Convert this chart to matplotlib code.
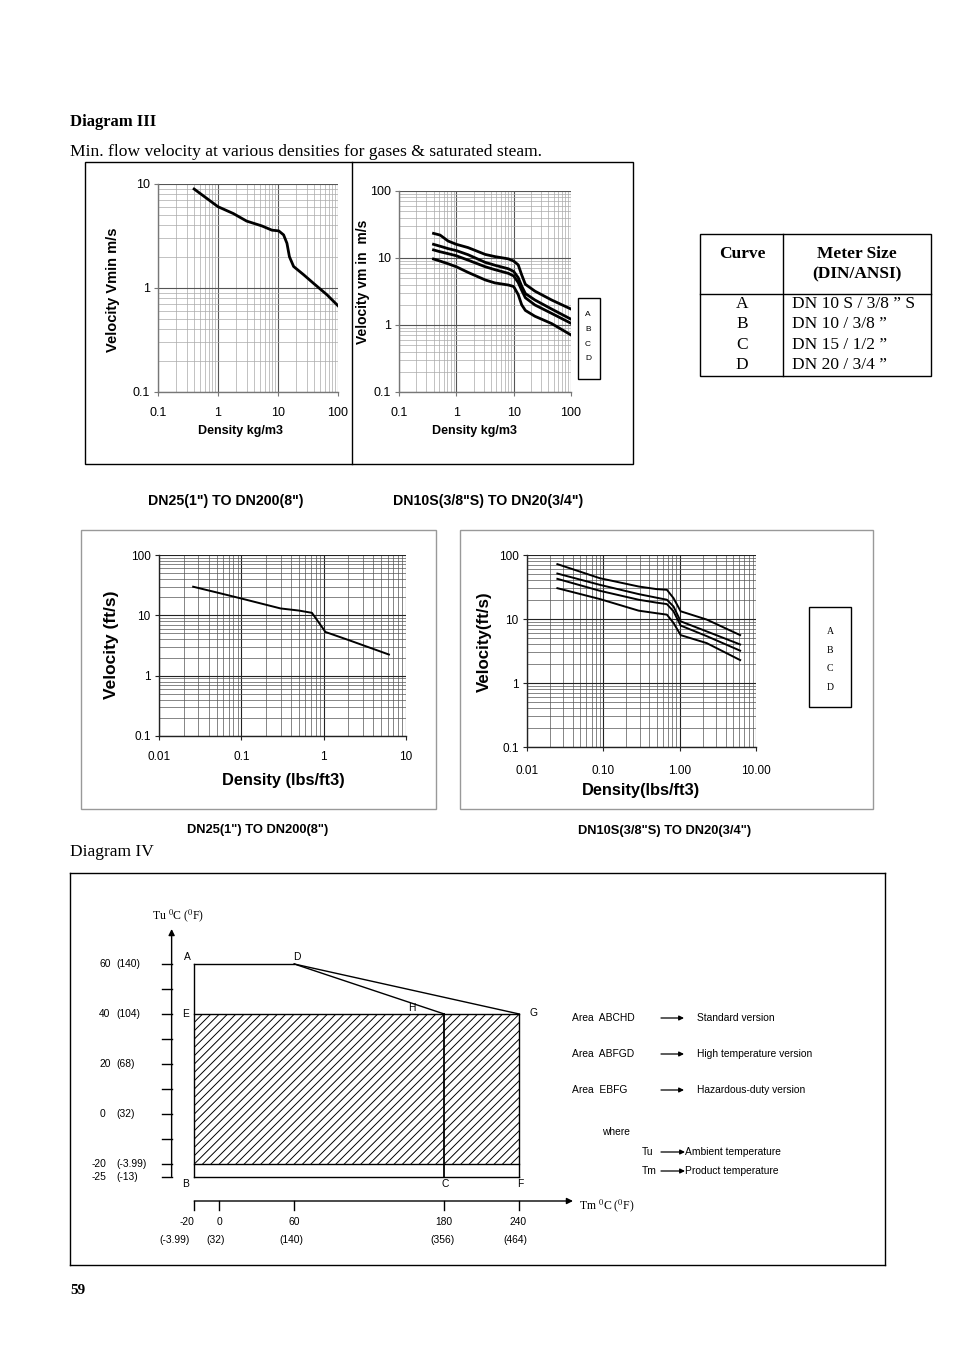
import matplotlib
matplotlib.use('Agg')
import matplotlib.pyplot as plt
from matplotlib.patches import Rectangle

W, H = 954, 1351
SANS = 'Liberation Sans'
SERIF = 'Liberation Serif'
plt.rcParams['font.family'] = [SANS, 'DejaVu Sans']
plt.rcParams['mathtext.fontset'] = 'stix'
plt.rcParams['hatch.linewidth'] = 0.7

# ---- Diagram III data ----
# top left: DN25..DN200, kg/m3 -> m/s
rho_big = [0.4, 1.0, 1.8, 3.0, 5.4, 7.9, 10.3, 12.4, 14.1, 15.5, 18.2, 26.8, 39, 65.6, 100]
v_big = [8.95, 6.05, 5.2, 4.4, 3.95, 3.6, 3.54, 3.24, 2.69, 2.0, 1.61, 1.34, 1.11, 0.86, 0.675]

# top right: DN10S..DN20, curves A-D
rho_small = [0.4, 0.52, 0.72, 1.0, 1.6, 3.2, 4.7, 8.1, 10, 12, 13.8, 16, 23.5, 46, 100]
v_small_A = [23.3, 22, 17.9, 16, 14.3, 11.3, 10.5, 9.7, 9.0, 7.9, 5.6, 4.05, 3.2, 2.36, 1.73]
v_small_B = [16.0, 15.0, 13.8, 12.9, 11.2, 8.6, 7.8, 6.9, 6.3, 5.1, 3.8, 2.95, 2.36, 1.73, 1.22]
v_small_C = [13.2, 12.4, 11.6, 10.8, 9.3, 7.4, 6.7, 5.9, 5.4, 4.3, 3.3, 2.55, 1.99, 1.49, 1.06]
v_small_D = [9.66, 9.0, 8.2, 7.4, 6.1, 4.7, 4.25, 3.95, 3.75, 2.85, 2.0, 1.65, 1.35, 1.05, 0.71]

# bottom left: DN25..DN200, lbs/ft3 -> ft/s
dens_big = [0.026, 0.05, 0.1, 0.3, 0.5, 0.72, 0.85, 1.05, 2.0, 6.2]
vel_big = [29.8, 24, 19, 13, 12, 11, 8, 5.3, 3.9, 2.24]

# bottom right: DN10S..DN20, curves A-D
dens_small = [0.025, 0.09, 0.29, 0.5, 0.68, 0.83, 1.03, 2.26, 6.2]
vel_small_A = [72, 43.4, 32.2, 29.3, 28.6, 21.2, 13.2, 9.8, 5.6]
vel_small_B = [51.3, 34.2, 24.5, 21.5, 20, 15.7, 9.2, 6.4, 4.0]
vel_small_C = [42.4, 27.6, 20, 18, 17.1, 13.2, 7.9, 5.4, 3.2]
vel_small_D = [30.3, 20.5, 13.5, 12.3, 11.7, 8.7, 5.6, 4.2, 2.28]

curve_names = ['A', 'B', 'C', 'D']
meter_sizes = ['DN 10 S / 3/8 \u201d S', 'DN 10 / 3/8 \u201d', 'DN 15 / 1/2 \u201d', 'DN 20 / 3/4 \u201d']

# ---- Diagram IV data ----
tu_ticks = [60, 50, 40, 30, 20, 10, 0, -10, -20, -25]
tu_labels_c = {60: '60', 40: '40', 20: '20', 0: '0', -20: '-20', -25: '-25'}
tu_labels_f = {60: '(140)', 40: '(104)', 20: '(68)', 0: '(32)', -20: '(-3.99)', -25: '(-13)'}
tm_ticks = [-20, 0, 60, 180, 240]
tm_labels_f = ['(-3.99)', '(32)', '(140)', '(356)', '(464)']
# corner points of the operating areas (Tm, Tu)
pts = {'A': (-20, 60), 'B': (-20, -25), 'C': (180, -25), 'D': (60, 60),
       'E': (-20, 40), 'F': (240, -25), 'G': (240, 40), 'H': (180, 40)}
areas = ['ABCHD', 'ABFGD', 'EBFG']
versions = ['Standard version', 'High temperature version', 'Hazardous-duty version']

fig = plt.figure(figsize=(W / 100, H / 100), dpi=100)

bg = fig.add_axes([0, 0, 1, 1])
bg.set_xlim(0, W)
bg.set_ylim(H, 0)
bg.axis('off')


def px_axes(x0, y0, x1, y1):
    ax = fig.add_axes([x0 / W, 1 - y1 / H, (x1 - x0) / W, (y1 - y0) / H])
    ax.set_facecolor('none')
    return ax


def log_panel(ax, xlim, ylim, xt, xtl, yt, ytl, major_c, minor_c, spine_c, fs, xpad):
    ax.set_xscale('log')
    ax.set_yscale('log')
    ax.set_xlim(*xlim)
    ax.set_ylim(*ylim)
    ax.set_xticks(xt)
    ax.set_xticklabels(xtl)
    ax.set_yticks(yt)
    ax.set_yticklabels(ytl)
    ax.grid(True, which='major', color=major_c, lw=0.8)
    ax.grid(True, which='minor', color=minor_c, lw=0.5)
    ax.minorticks_on()
    ax.tick_params(which='minor', length=0)
    ax.tick_params(which='major', length=3, color=spine_c, labelsize=fs, pad=3)
    ax.tick_params(axis='x', which='major', pad=xpad)
    for s in ['top', 'right']:
        ax.spines[s].set_visible(False)
    for s in ['left', 'bottom']:
        ax.spines[s].set_color(spine_c)
        ax.spines[s].set_linewidth(1.0)
    ax.set_axisbelow(True)


# ---- headings ----
bg.text(70, 122, 'Diagram III', family=SERIF, weight='bold', fontsize=12, va='center')
bg.text(70, 152, 'Min. flow velocity at various densities for gases & saturated steam.',
        family=SERIF, fontsize=12.6, va='center')

# ---- top frame ----
bg.add_patch(Rectangle((85, 162), 548, 302, fill=False, lw=1.0, ec='black'))
bg.plot([352, 352], [162, 464], color='black', lw=1.0)

ax1 = px_axes(158, 184, 338, 392)
log_panel(ax1, (0.1, 100), (0.1, 10), [0.1, 1, 10, 100], ['0.1', '1', '10', '100'],
          [0.1, 1, 10], ['0.1', '1', '10'], '#555555', '#aaaaaa', '#777777', 9, 8)
ax1.plot(rho_big, v_big, color='black', lw=2.0)
bg.text(113, 290, 'Velocity Vmin m/s', rotation=90, ha='center', va='center', weight='bold', fontsize=10.5)
bg.text(241, 431, 'Density kg/m3', ha='center', va='center', weight='bold', fontsize=9)

ax2 = px_axes(399, 191, 571, 392)
log_panel(ax2, (0.1, 100), (0.1, 100), [0.1, 1, 10, 100], ['0.1', '1', '10', '100'],
          [0.1, 1, 10, 100], ['0.1', '1', '10', '100'], '#555555', '#aaaaaa', '#777777', 9, 8)
for v in [v_small_A, v_small_B, v_small_C, v_small_D]:
    ax2.plot(rho_small, v, color='black', lw=2.0)
bg.text(363, 282, 'Velocity vm in  m/s', rotation=90, ha='center', va='center', weight='bold', fontsize=10)
bg.text(475, 431, 'Density kg/m3', ha='center', va='center', weight='bold', fontsize=9)
bg.add_patch(Rectangle((578, 298), 22, 81, fill=False, lw=1.0, ec='black'))
for i, n in enumerate(curve_names):
    bg.text(588, 315 + i * 14.5, n, ha='center', va='center', fontsize=6)

# ---- table ----
bg.add_patch(Rectangle((700, 234), 231, 142, fill=False, lw=1.0, ec='black'))
bg.plot([783, 783], [234, 376], color='black', lw=1.0)
bg.plot([700, 931], [294, 294], color='black', lw=1.0)
bg.text(742, 254, 'Curve', family=SERIF, weight='bold', fontsize=12.5, ha='center', va='center')
bg.text(857, 254, 'Meter Size', family=SERIF, weight='bold', fontsize=12.5, ha='center', va='center')
bg.text(857, 274, '(DIN/ANSI)', family=SERIF, weight='bold', fontsize=12.5, ha='center', va='center')
for i, (n, m) in enumerate(zip(curve_names, meter_sizes)):
    y = 304 + i * 20.3
    bg.text(742, y, n, family=SERIF, fontsize=12.5, ha='center', va='center')
    bg.text(792, y, m, family=SERIF, fontsize=12.5, ha='left', va='center')

# ---- captions ----
bg.text(226, 501, 'DN25(1") TO DN200(8")', ha='center', va='center', weight='bold', fontsize=10.2)
bg.text(488, 501, 'DN10S(3/8"S) TO DN20(3/4")', ha='center', va='center', weight='bold', fontsize=10.2)
bg.text(258, 830, 'DN25(1") TO DN200(8")', ha='center', va='center', weight='bold', fontsize=9.3)
bg.text(665, 831, 'DN10S(3/8"S) TO DN20(3/4")', ha='center', va='center', weight='bold', fontsize=9.3)

# ---- bottom scanned panels ----
bg.add_patch(Rectangle((81, 530), 355, 279, fill=False, lw=1.0, ec='#999999'))
bg.add_patch(Rectangle((460, 530), 413, 279, fill=False, lw=1.0, ec='#999999'))

ax3 = px_axes(159, 555, 406, 736)
log_panel(ax3, (0.01, 10), (0.1, 100), [0.01, 0.1, 1, 10], ['0.01', '0.1', '1', '10'],
          [0.1, 1, 10, 100], ['0.1', '1', '10', '100'], '#222222', '#555555', '#222222', 8.5, 8)
ax3.plot(dens_big, vel_big, color='black', lw=1.4)
bg.text(112, 645, 'Velocity (ft/s)', rotation=90, ha='center', va='center', weight='bold', fontsize=12.5)
bg.text(283, 780, 'Density (lbs/ft3)', ha='center', va='center', weight='bold', fontsize=11.8)

ax4 = px_axes(527, 555, 756, 747)
log_panel(ax4, (0.01, 10), (0.1, 100), [0.01, 0.1, 1, 10], ['0.01', '0.10', '1.00', '10.00'],
          [0.1, 1, 10, 100], ['0.1', '1', '10', '100'], '#222222', '#555555', '#222222', 8.5, 10)
for v in [vel_small_A, vel_small_B, vel_small_C, vel_small_D]:
    ax4.plot(dens_small, v, color='black', lw=1.4)
bg.text(484, 642, 'Velocity(ft/s)', rotation=90, ha='center', va='center', weight='bold', fontsize=12.2)
bg.text(641, 791, 'Density(lbs/ft3)', ha='center', va='center', weight='bold', fontsize=11.8)
bg.add_patch(Rectangle((809, 607), 42, 100, fill=False, lw=1.0, ec='black'))
for i, n in enumerate(curve_names):
    bg.text(830, 632 + i * 18.4, n, family=SERIF, ha='center', va='center', fontsize=7)

# ---- Diagram IV ----
bg.text(70, 852, 'Diagram IV', family=SERIF, fontsize=12.5, va='center')
bg.text(70, 1291, '59', family=SERIF, weight='bold', fontsize=11, va='center')

ax5 = px_axes(70, 873, 885, 1265)
ax5.set_xlim(-119.4, 532.6)
ax5.set_ylim(-60.4, 96.4)
ax5.set_xticks([])
ax5.set_yticks([])
for s in ax5.spines.values():
    s.set_linewidth(1.0)

y_axis_tm = -38.1
x_axis_tu = -34.8
fs4 = 7.4
# Tu axis with arrow
ax5.annotate('', xy=(y_axis_tm, 74), xytext=(y_axis_tm, -25),
             arrowprops=dict(arrowstyle='-|>', lw=1.0, color='black', mutation_scale=9, shrinkA=0, shrinkB=0))
for t in tu_ticks:
    ax5.plot([-46.1, y_axis_tm], [t, t], color='black', lw=1.0)
    if t in tu_labels_c:
        ax5.text(-96 if t >= 0 else -102.4, t, tu_labels_c[t], fontsize=fs4, va='center', ha='left')
        ax5.text(-82.6, t, tu_labels_f[t], fontsize=fs4, va='center', ha='left')
ax5.text(-54, 79.5, r'Tu $^{0}$C ($^{0}$F)', family=SERIF, fontsize=8.5, va='center', ha='left')

# Tm axis with arrow
ax5.annotate('', xy=(283, x_axis_tu), xytext=(-20, x_axis_tu),
             arrowprops=dict(arrowstyle='-|>', lw=1.0, color='black', mutation_scale=9, shrinkA=0, shrinkB=0))
tm_label_x = [-26, 0, 60, 180, 239]
tm_flabel_x = [-36, -3, 58, 179, 237]
for t, f, lx, fx in zip(tm_ticks, tm_labels_f, tm_label_x, tm_flabel_x):
    ax5.plot([t, t], [x_axis_tu, -38.4], color='black', lw=1.0)
    ax5.text(lx, -43.1, str(t), fontsize=fs4, ha='center', va='center')
    ax5.text(fx, -50.4, f, fontsize=fs4, ha='center', va='center')
ax5.text(288, -36.5, r'Tm $^{0}$C ($^{0}$F)', family=SERIF, fontsize=8.5, va='center', ha='left')

# areas
A, B, C, D, E, F, G, Hh = (pts[k] for k in 'ABCDEFGH')
ax5.add_patch(Rectangle((E[0], -20), G[0] - E[0], G[1] + 20, facecolor='none',
                        edgecolor='black', hatch='////', lw=0))
ax5.plot([A[0], D[0]], [A[1], D[1]], color='black', lw=1.0)
ax5.plot([D[0], Hh[0]], [D[1], Hh[1]], color='black', lw=1.0)
ax5.plot([D[0], G[0]], [D[1], G[1]], color='black', lw=1.0)
ax5.plot([A[0], B[0]], [A[1], B[1]], color='black', lw=1.0)
ax5.plot([E[0], G[0]], [E[1], G[1]], color='black', lw=1.0)
ax5.plot([B[0], F[0]], [-20, -20], color='black', lw=1.0)
ax5.plot([B[0], F[0]], [B[1], F[1]], color='black', lw=1.0)
ax5.plot([Hh[0], C[0]], [Hh[1], C[1]], color='black', lw=1.3)
ax5.plot([G[0], F[0]], [G[1], F[1]], color='black', lw=1.0)

label_off = {'A': (-5, 5), 'D': (1.5, 5), 'E': (-6, 0), 'H': (-23, 4),
             'G': (10, 1), 'B': (-6.5, -5.5), 'C': (1, -5.5), 'F': (1, -5.5)}
for k, (dx, dy) in label_off.items():
    ax5.annotate(k, xy=pts[k], xytext=(dx, dy), textcoords='offset points',
                 fontsize=fs4, ha='center', va='center')

# legend of areas
for i, (a, v) in enumerate(zip(areas, versions)):
    y = 1018 + i * 36
    bg.text(572, y, 'Area  ' + a, fontsize=fs4, va='center')
    bg.annotate('', xy=(684, y), xytext=(661, y),
                arrowprops=dict(arrowstyle='-|>', lw=0.9, color='black', mutation_scale=7, shrinkA=0, shrinkB=0))
    bg.text(697, y, v, fontsize=fs4, va='center')
bg.text(602, 1132, 'where', fontsize=fs4, va='center')
for y, sym, desc in [(1152, 'Tu', 'Ambient temperature'), (1171, 'Tm', 'Product temperature')]:
    bg.text(642, y, sym, fontsize=fs4, va='center')
    bg.annotate('', xy=(685, y), xytext=(661, y),
                arrowprops=dict(arrowstyle='-|>', lw=0.9, color='black', mutation_scale=7, shrinkA=0, shrinkB=0))
    bg.text(685, y, desc, fontsize=fs4, va='center')

fig.savefig('out.png', dpi=100)
